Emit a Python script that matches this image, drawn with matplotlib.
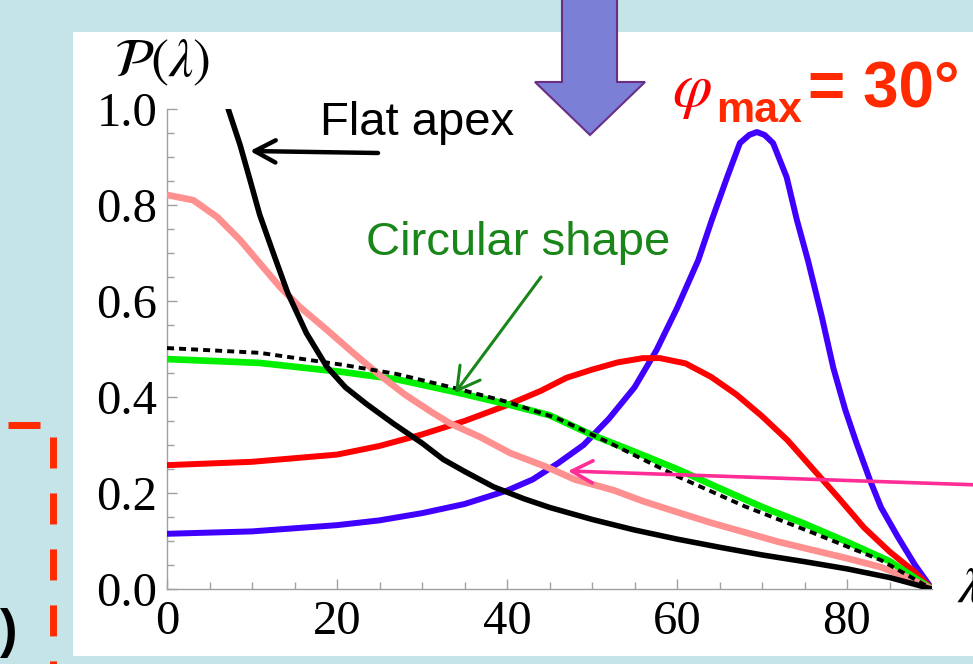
import matplotlib
matplotlib.use('Agg')
import matplotlib.pyplot as plt
from matplotlib.patches import Polygon, Rectangle, FancyArrowPatch
from matplotlib.lines import Line2D
from matplotlib.ticker import FixedLocator

### data ###
# P(lambda) curves, lambda in degrees

blue_x = [0, 10, 20, 25, 30, 35, 40, 43, 46, 49, 52, 55, 57.6, 60, 62.5, 64.1, 65.9, 67.4, 68.5, 69.4,
          70.3, 71.3, 72.9, 74.1, 75.4, 77, 78.4, 79.8, 81, 82.7, 84, 86, 88, 90]
blue_y = [0.115, 0.12, 0.133, 0.143, 0.158, 0.177, 0.205, 0.228, 0.262, 0.3, 0.355, 0.42, 0.498, 0.585, 0.685, 0.769, 0.858, 0.929, 0.946, 0.952,
          0.946, 0.929, 0.858, 0.769, 0.685, 0.57, 0.46, 0.373, 0.31, 0.227, 0.17, 0.108, 0.05, 0.0]

red_x = [0, 10, 20, 25, 30, 35, 40, 44, 47, 50, 53, 56, 58, 61, 64, 67, 70, 73, 76, 79, 82, 85, 88, 90]
red_y = [0.258, 0.265, 0.28, 0.298, 0.322, 0.35, 0.383, 0.413, 0.44, 0.457, 0.472, 0.481, 0.481, 0.47, 0.442, 0.405, 0.36, 0.31, 0.25, 0.19, 0.128, 0.078, 0.035, 0.0]

pink_x = [0, 3.1, 5.9, 8.6, 10.9, 13.3, 15.6, 18.8, 21.9, 24.7, 28, 31, 33.3, 36.8, 40.4, 44.7, 48, 52.5, 56, 60.4,
          64, 68.2, 72, 76, 80, 83.9, 87, 90]
pink_y = [0.821, 0.81, 0.775, 0.727, 0.679, 0.629, 0.588, 0.54, 0.492, 0.45, 0.405, 0.37, 0.345, 0.317, 0.283, 0.254, 0.228, 0.206, 0.183, 0.158,
          0.138, 0.117, 0.098, 0.081, 0.064, 0.046, 0.025, 0.0]

flat_x = [7.2, 8.6, 9.8, 10.9, 12.5, 14.2, 16.4, 18.8, 21, 23.5, 26.6, 30, 32.5, 35, 38.4, 42, 45, 50, 55, 60, 65, 70, 75, 80, 85, 90]
flat_y = [1.0, 0.925, 0.85, 0.78, 0.7, 0.617, 0.533, 0.463, 0.42, 0.385, 0.345, 0.304, 0.27, 0.245, 0.213, 0.188, 0.17, 0.145, 0.123, 0.104, 0.087, 0.071, 0.057, 0.042, 0.024, 0.0]

circ_x = [0, 10.9, 20.7, 27, 34, 40, 45, 50, 55, 60, 65, 70, 75, 80, 85, 90]
circ_y = [0.479, 0.471, 0.452, 0.437, 0.41, 0.385, 0.362, 0.321, 0.286, 0.25, 0.21, 0.171, 0.136, 0.098, 0.058, 0.0]

dot_x = [0, 10.9, 20.7, 27, 34, 40, 46, 52, 60, 68, 76, 84, 90]
dot_y = [0.502, 0.492, 0.467, 0.448, 0.418, 0.39, 0.355, 0.305, 0.235, 0.172, 0.117, 0.06, 0.0]

x_ticks = [0, 20, 40, 60, 80]
y_ticks = [0.0, 0.2, 0.4, 0.6, 0.8, 1.0]

### figure ###
W, H = 973, 664

def fp(x, y):
    # slide pixel (from top-left) -> figure fraction
    return (x / W, 1 - y / H)

plt.rcParams['font.family'] = 'Liberation Serif'
plt.rcParams['mathtext.fontset'] = 'stix'
plt.rcParams['lines.solid_joinstyle'] = 'round'
plt.rcParams['lines.solid_capstyle'] = 'round'

fig = plt.figure(figsize=(W / 100, H / 100), dpi=100, facecolor='#c4e4e7')
fig.add_artist(Rectangle(fp(73, 656), 900 / W, 624 / H, transform=fig.transFigure,
                         facecolor='white', edgecolor='none', zorder=-1))

ax = fig.add_axes([167 / W, 1 - 589 / H, 765 / W, 480 / H])
ax.set_facecolor('none')

ax.plot(blue_x, blue_y, color='#4000ff', lw=4.3, zorder=3)
ax.plot(red_x, red_y, color='#ff0000', lw=4.3, zorder=3)
ax.plot(circ_x, circ_y, color='#00f000', lw=4.8, zorder=4)
ax.plot(dot_x, dot_y, color='black', lw=2.8, dashes=(1.8, 1.3), zorder=5)
ax.plot(pink_x, pink_y, color='#ff9090', lw=4.8, zorder=4)
ax.plot(flat_x, flat_y, color='black', lw=4, zorder=6)

ax.set_xlim(0, 90)
ax.set_ylim(0, 1.0)
ax.set_xticks(x_ticks)
ax.set_yticks(y_ticks)
ax.set_yticklabels(['%.1f' % v for v in y_ticks])
ax.xaxis.set_minor_locator(FixedLocator(list(range(5, 90, 5))))
ax.yaxis.set_minor_locator(FixedLocator([i * 0.05 for i in range(1, 20)]))
for s in ['top', 'right']:
    ax.spines[s].set_visible(False)
for s in ['left', 'bottom']:
    ax.spines[s].set_color('#a0a0a0')
    ax.spines[s].set_linewidth(1)
ax.tick_params(which='both', direction='in', color='#a0a0a0', width=1, labelsize=35)
ax.tick_params(which='major', length=7)
ax.tick_params(which='minor', length=5)
ax.tick_params(axis='y', pad=7)
ax.tick_params(axis='x', pad=8)

### labels and slide decorations ###
fig.text(*fp(114, 88), r'$\mathcal{P}(\lambda)$', fontsize=39, va='bottom')
fig.text(*fp(957, 602), r'$\lambda$', fontsize=35, va='baseline')

fig.text(*fp(320, 135), 'Flat apex', fontsize=34, family='Liberation Sans', va='baseline')
fig.text(*fp(366, 255), 'Circular shape', fontsize=34, family='Liberation Sans',
         color='#1a861a', va='baseline')

fig.text(*fp(672, 106), r'$\varphi$', fontsize=46, color='#ff0000', va='baseline')
fig.text(*fp(716, 122), 'max', fontsize=31, family='Liberation Sans', weight='bold',
         color='#ff2a00', va='baseline')
fig.text(*fp(808, 107), '= 30°', fontsize=46, family='Liberation Sans', weight='bold',
         color='#ff2a00', va='baseline')

fig.text(*fp(17, 633), ')', fontsize=38, family='Liberation Sans', weight='bold',
         ha='right', va='center')

# big purple arrow at the top
arrow_pts = [fp(562, -5), fp(617, -5), fp(617, 82), fp(645, 82), fp(590, 135), fp(535, 82), fp(562, 82)]
fig.add_artist(Polygon(arrow_pts, closed=True, transform=fig.transFigure,
                       facecolor='#7b80d6', edgecolor='#6b2e87', lw=1.5, zorder=7))

# pointer arrows
fig.add_artist(FancyArrowPatch(fp(378, 153), fp(250, 151), transform=fig.transFigure,
                               arrowstyle='->,head_length=0.75,head_width=0.4', mutation_scale=20,
                               lw=3.2, color='black', shrinkA=0, shrinkB=0, zorder=8))
fig.add_artist(FancyArrowPatch(fp(541, 277), fp(455, 393), transform=fig.transFigure,
                               arrowstyle='->,head_length=0.8,head_width=0.45', mutation_scale=20,
                               lw=2.2, color='#1a861a', shrinkA=0, shrinkB=0, zorder=8))
fig.add_artist(FancyArrowPatch(fp(980, 485), fp(568, 471), transform=fig.transFigure,
                               arrowstyle='->,head_length=0.75,head_width=0.4', mutation_scale=20,
                               lw=2.6, color='#ff2d95', shrinkA=0, shrinkB=0, zorder=8))

# red dashed frame on the left
x0, y0 = fp(53, 437)
_, y1 = fp(53, 700)
fig.add_artist(Line2D([x0, x0], [y0, y1], transform=fig.transFigure, color='#ff2a00',
                      lw=5, dashes=(4.46, 3.6), solid_capstyle='butt'))
xa, yh = fp(8, 425)
xb, _ = fp(40, 425)
fig.add_artist(Line2D([xa, xb], [yh, yh], transform=fig.transFigure, color='#ff2a00', lw=5,
                      solid_capstyle='butt'))

fig.savefig('out.png', dpi=100, facecolor=fig.get_facecolor())
